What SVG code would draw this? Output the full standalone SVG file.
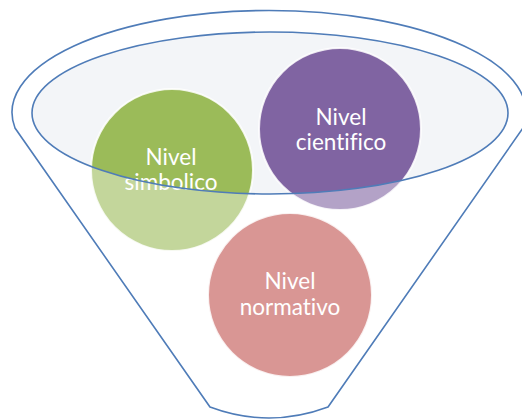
<svg xmlns="http://www.w3.org/2000/svg" width="522" height="419" viewBox="0 0 522 419">
  <style>
    .bubble { stroke: #ffffff; stroke-width: 2; stroke-opacity: 0.85; }
    .label { font-family: Lato, "Open Sans", "Liberation Sans", sans-serif; font-size: 22.5px; fill: #ffffff; text-anchor: middle; font-variant-ligatures: none; }
    .line { fill: none; stroke: #4f7cb8; stroke-width: 1.6; }
  </style>
  <rect x="0" y="0" width="522" height="419" fill="#ffffff"/>
  <g id="funnel-back">
    <ellipse cx="270" cy="113" rx="238" ry="81" fill="#f3f5f8"/>
  </g>
  <g id="node-simbolico">
    <circle class="bubble" cx="172" cy="170" r="81" fill="#9bbb59"/>
    <text class="label" x="171" y="165">Nivel</text>
    <text class="label" x="171" y="190">simbolico</text>
  </g>
  <g id="node-cientifico">
    <circle class="bubble" cx="340" cy="129" r="81" fill="#8064a2"/>
    <text class="label" x="341" y="125">Nivel</text>
    <text class="label" x="341" y="150">cientifico</text>
  </g>
  <g id="node-normativo">
    <circle class="bubble" cx="290" cy="295" r="82" fill="#c0504d"/>
    <text class="label" x="290" y="289">Nivel</text>
    <text class="label" x="290" y="315">normativo</text>
  </g>
  <g id="funnel-front">
    <path d="M15,128 A257,102 0 1 1 523,128 L328,407 Q269,429 210,407 Z M32,113 A238,81 0 1 0 508,113 A238,81 0 1 0 32,113 Z" fill="#ffffff" fill-opacity="0.4" fill-rule="evenodd"/>
  </g>
  <g id="connectors">
    <path class="line" d="M15,128 A257,102 0 1 1 523,128 L328,407 Q269,429 210,407 Z"/>
    <ellipse class="line" cx="270" cy="113" rx="238" ry="81"/>
  </g>
</svg>
